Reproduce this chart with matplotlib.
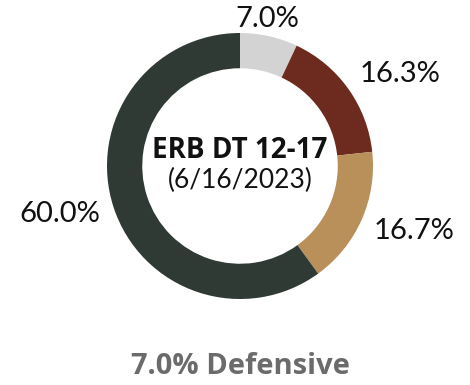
import numpy as np
import matplotlib
matplotlib.use('Agg')
import matplotlib.pyplot as plt

# slices, clockwise from 12 o'clock
shares = [7.0, 16.3, 16.7, 60.0]
labels = ['7.0%', '16.3%', '16.7%', '60.0%']
colors = ['#d3d3d3', '#6d2b1f', '#b98f5a', '#303a34']
# label placement: radius (in pie radii) and nudge from the wedge middle (deg)
label_dist = [1.125, 1.39, 1.395, 1.40]
label_nudge = [2, -5.5, 3.5, -3]

title = 'ERB DT 12-17'
subtitle = '(6/16/2023)'
footer = '7.0% Defensive'

W, H = 470, 385
fig = plt.figure(figsize=(W / 100, H / 100), dpi=100)
fig.patch.set_facecolor('white')

cx, cy, r = 240, 166, 133
ax = fig.add_axes([(cx - r) / W, (H - cy - r) / H, 2 * r / W, 2 * r / H])

wedges, _ = ax.pie(shares, colors=colors, startangle=90, counterclock=False,
                   radius=1, wedgeprops=dict(width=0.265, linewidth=0))
# pie resets the limits, so set them afterwards
ax.set_xlim(-1, 1)
ax.set_ylim(-1, 1)
ax.set_aspect('equal')
ax.axis('off')

for w, lab, d, n in zip(wedges, labels, label_dist, label_nudge):
    mid = np.deg2rad((w.theta1 + w.theta2) / 2 + n)
    ax.text(d * np.cos(mid), d * np.sin(mid), lab, ha='center', va='center',
            fontsize=21, family='Lato', color='#111111', clip_on=False)

ax.text(0, 0.12, title, ha='center', va='center', fontsize=20,
        fontweight='bold', family='Open Sans', color='#111111')
ax.text(0, -0.11, subtitle, ha='center', va='center', fontsize=19,
        family='Lato', color='#111111')

fig.text(240 / W, 1 - 366 / H, footer, ha='center', va='center', fontsize=21,
         fontweight='bold', family='Open Sans', color='#6b6b6b')

fig.savefig('out.png', dpi=100, facecolor='white')
